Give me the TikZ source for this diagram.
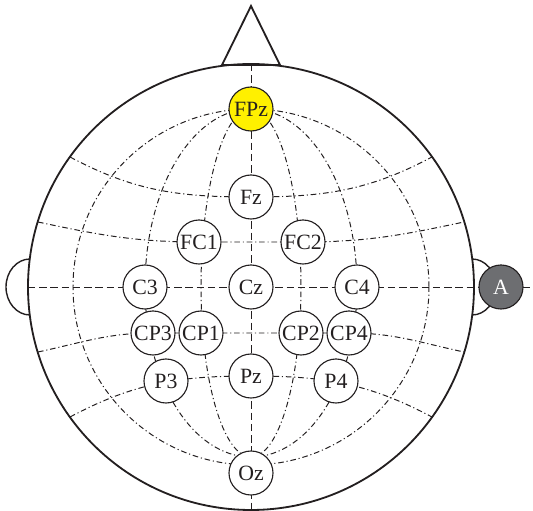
\documentclass[tikz,border=0pt]{standalone}
\usepackage{fontspec}
\setmainfont{Liberation Serif}
\usetikzlibrary{backgrounds}
\definecolor{cInk}{RGB}{35,31,32}
\definecolor{cYellow}{RGB}{255,240,0}
\definecolor{cGrayA}{RGB}{109,110,113}
\tikzset{
  %% electrode circles
  electrode/.style={circle, draw=cInk, fill=white, line width=0.8pt,
                    minimum size=1.1cm, inner sep=0pt, text=cInk,
                    font=\fontsize{15.5}{17}\selectfont},
  electrodeRef/.style={electrode, fill=cYellow},
  electrodeEar/.style={electrode, fill=cGrayA, text=white},
  %% head outline
  headline/.style={draw=cInk, line width=1.3pt},
  %% grid lines
  midline/.style={draw=cInk, line width=0.7pt, dash pattern=on 5.2pt off 2.8pt},
  gridline/.style={draw=cInk, line width=0.7pt,
                   dash pattern=on 4pt off 2pt on 0.8pt off 2pt},
}

\begin{document}
\begin{tikzpicture}[x=0.025cm, y=0.025cm]
\useasboundingbox (-251,-224) rectangle (282,287);

%% ============================================================
%%  ELECTRODES
%% ============================================================
\node[electrodeRef] (FPz) at (0,178)   {FPz};
\node[electrode]    (Fz)  at (0,90)    {Fz};
\node[electrode]    (FC1) at (-52,45)  {FC1};
\node[electrode]    (FC2) at (52,45)   {FC2};
\node[electrode]    (C3)  at (-106,0)  {C3};
\node[electrode]    (Cz)  at (0,0)     {Cz};
\node[electrode]    (C4)  at (106,0)   {C4};
\node[electrode]    (CP3) at (-98,-46) {CP3};
\node[electrode]    (CP1) at (-50,-46) {CP1};
\node[electrode]    (CP2) at (50,-46)  {CP2};
\node[electrode]    (CP4) at (98,-46)  {CP4};
\node[electrode]    (P3)  at (-85,-94) {P3};
\node[electrode]    (Pz)  at (0,-89)   {Pz};
\node[electrode]    (P4)  at (85,-94)  {P4};
\node[electrode]    (Oz)  at (0,-186)  {Oz};
\node[electrodeEar] (A)   at (250,0)   {A};

%% ----- rim points -----
\coordinate (rimN) at (0,223);
\coordinate (rimS) at (0,-223);
\coordinate (rimW) at (-223,0);
\coordinate (rimE) at (282,0);
\coordinate (latW1) at (-181,130);  \coordinate (latE1) at (181,130);
\coordinate (latW2) at (-213,65);   \coordinate (latE2) at (213,65);
\coordinate (latW3) at (-213,-65);  \coordinate (latE3) at (213,-65);
\coordinate (latW4) at (-181,-130); \coordinate (latE4) at (181,-130);

\begin{scope}[on background layer]
%% ============================================================
%%  HEAD, NOSE, EARS
%% ============================================================
\draw[headline] (Cz.center) circle[radius=223];
\draw[headline, line join=miter] (-29,222) -- (0,281) -- (29,222) -- cycle;
\draw[headline, line width=1pt] (-221,28)
  arc[start angle=90, end angle=270, x radius=24, y radius=28];
\draw[headline, line width=1pt] (221,28)
  arc[start angle=90, end angle=-90, x radius=24, y radius=28];

%% ============================================================
%%  MIDLINES
%% ============================================================
\draw[midline] (rimN) -- (rimS);
\draw[midline] (rimW) -- (rimE);

%% ----- inner ring -----
\draw[gridline] (Cz.center) circle[radius=178];

%% ----- longitudes -----
\foreach \rx/\ea/\eb in {50/180/270, 106/180/270, 50/0/-90, 106/0/-90} {
  \draw[gridline] (FPz.center)
    arc[start angle=90, end angle=\ea, x radius=\rx, y radius=178]
    arc[start angle=\ea, end angle=\eb, x radius=\rx, y radius=170];
}

%% ----- latitudes -----
\draw[gridline] (latW1) to[out=-28, in=180] (Fz.center)
  to[out=0, in=-152] (latE1);
\draw[gridline] (latW2) to[out=-12, in=180] (FC1.center) -- (FC2.center)
  to[out=0, in=-168] (latE2);
\draw[gridline] (latW3) to[out=12, in=180] (CP3.center) -- (CP4.center)
  to[out=0, in=168] (latE3);
\draw[gridline] (latW4) to[out=28, in=180] (Pz.center)
  to[out=0, in=152] (latE4);
\end{scope}

\end{tikzpicture}
\end{document}
